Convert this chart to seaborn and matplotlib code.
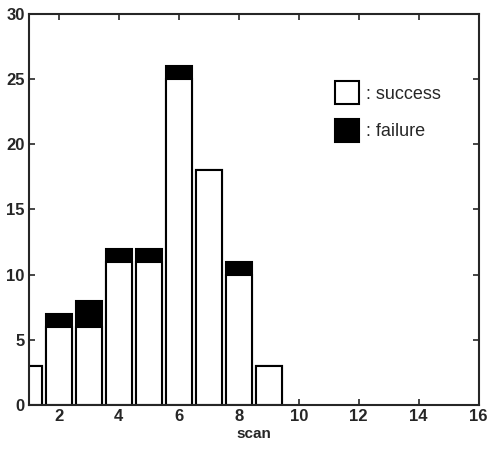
import pandas as pd
import matplotlib
matplotlib.use("Agg")
import matplotlib.pyplot as plt
import seaborn as sns
from matplotlib.patches import Patch

# du lieu doc tu hinh
scan = [1, 2, 3, 4, 5, 6, 7, 8, 9]
success = [3, 6, 6, 11, 11, 25, 18, 10, 3]
failure = [0, 1, 2, 1, 1, 1, 0, 1, 0]

df = pd.DataFrame({"scan": scan, "success": success, "failure": failure})
df["total"] = df["success"] + df["failure"]

sns.set_style("ticks")
plt.rcParams["font.family"] = ["Liberation Sans", "DejaVu Sans"]

fig = plt.figure(figsize=(4.88, 4.51), dpi=100)
ax = fig.add_axes([0.059, 0.102, 0.922, 0.867])

sns.barplot(data=df, x="scan", y="total", native_scale=True, color="black",
            edgecolor="black", linewidth=1.5, width=0.85, saturation=1, ax=ax)
sns.barplot(data=df, x="scan", y="success", native_scale=True, color="white",
            edgecolor="black", linewidth=1.5, width=0.85, saturation=1, ax=ax)

ax.set_xlim(1, 16)
ax.set_ylim(0, 30)
ax.set_xticks(range(2, 17, 2))
ax.set_yticks(range(0, 31, 5))
ax.tick_params(direction="in", top=True, right=True, length=4, width=1.2,
               labelsize=12, pad=3)
for lab in ax.get_xticklabels() + ax.get_yticklabels():
    lab.set_fontweight("bold")
for s in ax.spines.values():
    s.set_linewidth(1.5)
ax.set_xlabel("scan", fontsize=11, fontweight="bold", labelpad=2)
ax.set_ylabel("")

handles = [Patch(facecolor="white", edgecolor="black", linewidth=1.5),
           Patch(facecolor="black", edgecolor="black", linewidth=1.5)]
ax.legend(handles, [": success", ": failure"], loc="upper left",
          bbox_to_anchor=(0.645, 0.87), frameon=False, fontsize=13,
          handlelength=1.3, handleheight=1.6, handletextpad=0.4,
          labelspacing=0.8)

fig.savefig("out.png", dpi=100)
